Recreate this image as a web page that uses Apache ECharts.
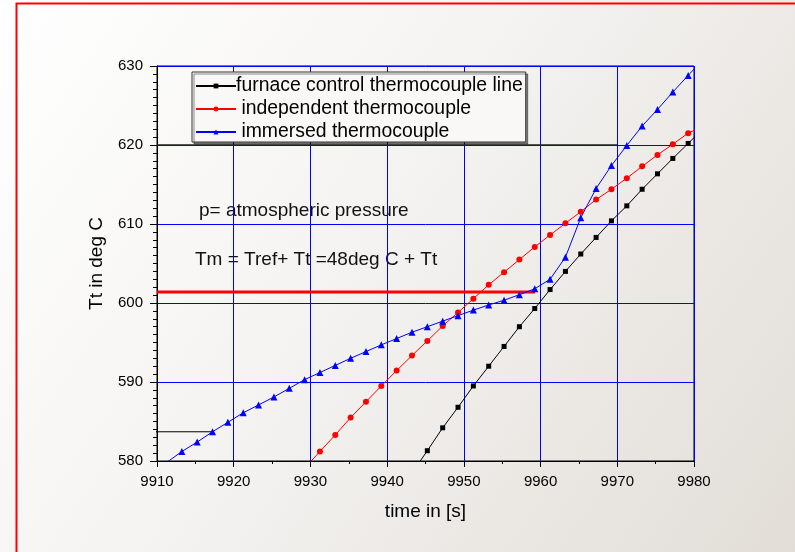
<!DOCTYPE html>
<html>
<head>
<meta charset="utf-8">
<script src="https://cdn.jsdelivr.net/npm/echarts@6/dist/echarts.min.js"></script>
<style>
html,body{margin:0;padding:0;}
#chart{width:795px;height:552px;}
</style>
</head>
<body>
<div id="chart"></div>
<script>
// Sample times (s)
const times = [9911.24, 9913.24, 9915.24, 9917.24, 9919.24, 9921.24, 9923.24, 9925.24, 9927.24, 9929.24,
  9931.24, 9933.24, 9935.24, 9937.24, 9939.24, 9941.24, 9943.24, 9945.24, 9947.24, 9949.24,
  9951.24, 9953.24, 9955.24, 9957.24, 9959.24, 9961.24, 9963.24, 9965.24, 9967.24, 9969.24,
  9971.24, 9973.24, 9975.24, 9977.24, 9979.24, 9981.24];
// furnace control thermocouple line (starts at 9943.24)
const furnace = [null, null, null, null, null, null, null, null, null, null,
  null, null, null, null, null, null, 578.5, 581.3, 584.2, 586.8,
  589.5, 592.0, 594.5, 597.0, 599.3, 601.7, 604.0, 606.2, 608.3, 610.4,
  612.3, 614.4, 616.35, 618.3, 620.2, 622.1];
// independent thermocouple (starts at 9929.24)
const independent = [null, null, null, null, null, null, null, null, null, 579.1,
  581.2, 583.3, 585.5, 587.5, 589.5, 591.45, 593.35, 595.2, 597.1, 598.8,
  600.55, 602.3, 603.9, 605.5, 607.1, 608.6, 610.1, 611.55, 613.1, 614.4,
  615.8, 617.3, 618.75, 620.1, 621.5, 622.4];
// immersed thermocouple
const immersed = [579.8, 581.2, 582.4, 583.7, 584.9, 586.1, 587.1, 588.1, 589.2, 590.3,
  591.2, 592.1, 593.0, 593.85, 594.7, 595.5, 596.3, 597.0, 597.7, 598.4,
  599.1, 599.75, 600.35, 601.05, 601.8, 603.0, 605.8, 610.8, 614.5, 617.4,
  619.95, 622.4, 624.5, 626.7, 628.8, 630.9];
// reference lines [x1, x2, y]
const redRef = [9910, 9959.3, 601.4];
const blackRef620 = [9910, 9970, 620];
const blackRef584 = [9909.1, 9917.2, 583.7];
const seriesNames = ['furnace control thermocouple line', ' independent thermocouple', ' immersed thermocouple'];
const xTicks = [9910, 9920, 9930, 9940, 9950, 9960, 9970, 9980];
const yTicks = [580, 590, 600, 610, 620, 630];

function pairs(vals) {
  const out = [];
  for (let i = 0; i < times.length; i++) if (vals[i] !== null) out.push([times[i], vals[i]]);
  return out;
}
const FONT = "'Liberation Sans', Arial, sans-serif";
const chart = echarts.init(document.getElementById('chart'), null, {renderer: 'canvas'});
const option = {
  animation: false,
  backgroundColor: {
    type: 'linear', x: 0, y: 0, x2: 1, y2: 1,
    colorStops: [
      {offset: 0, color: '#ffffff'},
      {offset: 0.45, color: '#f4f3f1'},
      {offset: 1, color: '#e2ddd7'}
    ]
  },
  textStyle: {fontFamily: FONT},
  graphic: [
    {type: 'rect', left: 14, top: 1, shape: {width: 800, height: 560},
     style: {fill: 'none', stroke: '#ff0000', lineWidth: 2}, silent: true},
    {type: 'text', left: 199, top: 201,
     style: {text: 'p= atmospheric pressure', font: '19px ' + FONT, fill: '#111'}},
    {type: 'text', left: 195, top: 250,
     style: {text: 'Tm = Tref+ Tt =48deg C + Tt', font: '19px ' + FONT, fill: '#111'}}
  ],
  grid: {left: 157, right: 101, top: 66, bottom: 91, show: true, borderColor: '#000', borderWidth: 1, backgroundColor: 'transparent'},
  legend: {
    orient: 'vertical', left: 192, top: 72,
    data: seriesNames,
    itemWidth: 40, itemHeight: 6, itemGap: 3,
    padding: [4, 3, 0, 3],
    borderColor: '#333', borderWidth: 1,
    backgroundColor: '#f9f8f7',
    shadowColor: 'rgba(0,0,0,0.45)', shadowOffsetX: 2, shadowOffsetY: 2, shadowBlur: 0,
    textStyle: {fontSize: 19.4, color: '#000', fontFamily: FONT, lineHeight: 20, padding: [0, 0, 0, -5]}
  },
  xAxis: {
    type: 'value', min: 9910, max: 9980, interval: 10,
    name: 'time in [s]', nameLocation: 'middle', nameGap: 41, nameMoveOverlap: false,
    nameTextStyle: {fontSize: 19, color: '#000', fontFamily: FONT},
    axisLine: {lineStyle: {color: '#000', width: 1}},
    axisTick: {length: 6, lineStyle: {color: '#000'}},
    minorTick: {show: true, splitNumber: 2, length: 3, lineStyle: {color: '#000'}},
    axisLabel: {fontSize: 15, color: '#000', margin: 13, fontFamily: FONT,
      formatter: v => xTicks.includes(v) ? String(v) : ''},
    splitLine: {show: true, lineStyle: {color: '#0000ff', width: 1}}
  },
  yAxis: {
    type: 'value', min: 580, max: 630, interval: 10,
    name: 'Tt in deg C', nameLocation: 'middle', nameGap: 51, nameRotate: 90, nameMoveOverlap: false,
    nameTextStyle: {fontSize: 19, color: '#000', fontFamily: FONT},
    axisLine: {show: true, lineStyle: {color: '#000', width: 1}},
    axisTick: {show: true, length: 7, lineStyle: {color: '#000'}},
    minorTick: {show: true, splitNumber: 10, length: 4, lineStyle: {color: '#000'}},
    axisLabel: {fontSize: 15, color: '#000', margin: 14, fontFamily: FONT,
      formatter: v => yTicks.includes(v) ? String(v) : ''},
    splitLine: {show: true, lineStyle: {color: '#0000ff', width: 1}}
  },
  series: [
    {type: 'line', name: 'ref620', data: [[blackRef620[0], blackRef620[2]], [blackRef620[1], blackRef620[2]]],
     symbol: 'none', lineStyle: {color: '#222', width: 1.5}, silent: true, z: 1},
    {type: 'line', name: 'ref584', data: [[blackRef584[0], blackRef584[2]], [blackRef584[1], blackRef584[2]]],
     symbol: 'none', clip: false, lineStyle: {color: '#000', width: 1}, silent: true, z: 1},
    {type: 'line', name: 'refRed', data: [[redRef[0], redRef[2]], [redRef[1], redRef[2]]],
     symbol: 'none', lineStyle: {color: '#ff0000', width: 3}, silent: true, z: 1},
    {type: 'line', name: seriesNames[0], data: pairs(furnace), symbol: 'rect', symbolSize: 5,
     color: '#000', lineStyle: {color: '#000', width: 1}, itemStyle: {color: '#000'}, z: 3},
    {type: 'line', name: seriesNames[1], data: pairs(independent), symbol: 'circle', symbolSize: 6,
     color: '#ff0000', lineStyle: {color: '#ff0000', width: 1}, itemStyle: {color: '#ff0000'}, z: 3},
    {type: 'line', name: seriesNames[2], data: pairs(immersed), symbol: 'triangle', symbolSize: 7,
     color: '#0000ff', lineStyle: {color: '#0000ff', width: 1}, itemStyle: {color: '#0000ff'}, z: 3}
  ]
};
chart.setOption(option);
</script>
</body>
</html>
